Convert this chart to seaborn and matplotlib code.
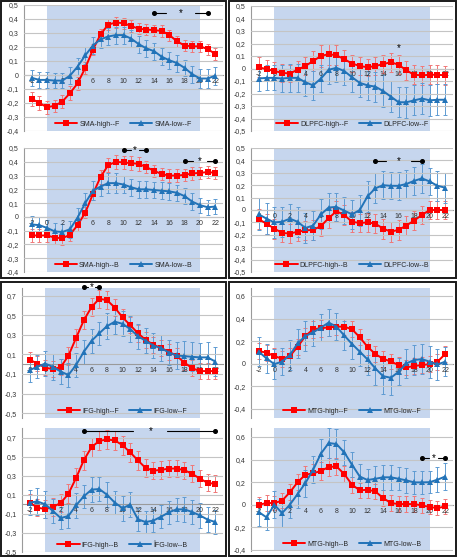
import matplotlib
matplotlib.use("Agg")
import matplotlib.pyplot as plt
from matplotlib.patches import Rectangle
import seaborn as sns
import pandas as pd

W, H = 457, 557

time_points = list(range(-2, 23))

# SMA
sma_high_f = [-0.17, -0.20, -0.23, -0.22, -0.19, -0.13, -0.06, 0.05, 0.18, 0.29, 0.36, 0.375, 0.37,
              0.35, 0.33, 0.325, 0.32, 0.315, 0.285, 0.24, 0.21, 0.205, 0.205, 0.185, 0.15]
sma_high_f_err = [0.05, 0.05, 0.045, 0.045, 0.045, 0.05, 0.045, 0.04, 0.04, 0.04, 0.04, 0.04, 0.04,
                  0.04, 0.04, 0.04, 0.04, 0.04, 0.04, 0.04, 0.04, 0.04, 0.04, 0.04, 0.04]
sma_low_f = [-0.02, -0.035, -0.035, -0.04, -0.04, -0.005, 0.06, 0.14, 0.21, 0.255, 0.275, 0.285, 0.285,
             0.26, 0.22, 0.19, 0.17, 0.13, 0.105, 0.085, 0.05, 0.005, -0.025, -0.025, -0.005]
sma_low_f_err = [0.055, 0.055, 0.055, 0.055, 0.055, 0.06, 0.06, 0.06, 0.06, 0.06, 0.06, 0.06, 0.06,
                 0.06, 0.06, 0.06, 0.06, 0.06, 0.06, 0.06, 0.06, 0.06, 0.065, 0.065, 0.065]
sma_high_b = [-0.135, -0.135, -0.135, -0.15, -0.155, -0.13, -0.06, 0.03, 0.165, 0.29, 0.375, 0.40, 0.395,
              0.39, 0.385, 0.36, 0.335, 0.31, 0.30, 0.30, 0.305, 0.315, 0.32, 0.325, 0.32]
sma_high_b_err = [0.045, 0.045, 0.045, 0.045, 0.05, 0.045, 0.045, 0.04, 0.04, 0.05, 0.05, 0.05, 0.05,
                  0.05, 0.05, 0.045, 0.045, 0.045, 0.045, 0.045, 0.045, 0.045, 0.045, 0.045, 0.045]
sma_low_b = [-0.055, -0.06, -0.08, -0.105, -0.11, -0.09, -0.005, 0.10, 0.19, 0.22, 0.245, 0.245, 0.235,
             0.215, 0.20, 0.20, 0.195, 0.19, 0.185, 0.175, 0.15, 0.11, 0.085, 0.07, 0.075]
sma_low_b_err = [0.065, 0.06, 0.06, 0.06, 0.06, 0.06, 0.07, 0.07, 0.07, 0.065, 0.07, 0.07, 0.065,
                 0.06, 0.06, 0.06, 0.06, 0.06, 0.06, 0.06, 0.06, 0.06, 0.055, 0.055, 0.055]

# DLPFC
dlpfc_high_f = [0.01, -0.005, -0.02, -0.035, -0.04, -0.01, 0.02, 0.06, 0.10, 0.115, 0.105, 0.075, 0.04,
                0.02, 0.01, 0.02, 0.035, 0.05, 0.03, -0.015, -0.05, -0.055, -0.05, -0.05, -0.055]
dlpfc_high_f_err = [0.08, 0.075, 0.07, 0.07, 0.07, 0.07, 0.075, 0.08, 0.085, 0.085, 0.08, 0.075, 0.07,
                    0.07, 0.07, 0.07, 0.07, 0.075, 0.075, 0.075, 0.075, 0.075, 0.075, 0.075, 0.075]
dlpfc_low_f = [-0.08, -0.075, -0.075, -0.08, -0.075, -0.075, -0.11, -0.135, -0.08, -0.01, 0.005, -0.02, -0.07,
               -0.115, -0.135, -0.145, -0.18, -0.225, -0.27, -0.27, -0.255, -0.24, -0.255, -0.25, -0.25]
dlpfc_low_f_err = [0.1, 0.1, 0.1, 0.105, 0.11, 0.11, 0.11, 0.115, 0.11, 0.11, 0.115, 0.115, 0.115,
                   0.115, 0.115, 0.12, 0.125, 0.125, 0.12, 0.125, 0.12, 0.125, 0.125, 0.125, 0.125]
dlpfc_high_b = [-0.075, -0.11, -0.15, -0.185, -0.19, -0.175, -0.165, -0.16, -0.13, -0.065, -0.01, -0.04, -0.095,
                -0.105, -0.10, -0.11, -0.15, -0.175, -0.16, -0.125, -0.085, -0.04, 0.0, 0.0, 0.0]
dlpfc_high_b_err = [0.08, 0.08, 0.08, 0.075, 0.075, 0.075, 0.075, 0.08, 0.08, 0.08, 0.08, 0.08, 0.08,
                    0.075, 0.075, 0.075, 0.08, 0.08, 0.08, 0.08, 0.08, 0.075, 0.075, 0.075, 0.075]
dlpfc_low_b = [-0.035, -0.07, -0.10, -0.095, -0.07, -0.095, -0.145, -0.125, -0.035, 0.02, 0.025, -0.005, -0.035,
               0.0, 0.11, 0.175, 0.20, 0.195, 0.195, 0.21, 0.235, 0.255, 0.23, 0.195, 0.18]
dlpfc_low_b_err = [0.13, 0.125, 0.125, 0.12, 0.12, 0.12, 0.12, 0.12, 0.12, 0.115, 0.115, 0.11, 0.115,
                   0.125, 0.125, 0.12, 0.115, 0.11, 0.115, 0.115, 0.115, 0.115, 0.11, 0.12, 0.12]

# IFG
ifg_high_f = [0.045, 0.007, -0.035, -0.05, -0.03, 0.086, 0.27, 0.45, 0.586, 0.67, 0.655, 0.58, 0.48,
              0.40, 0.317, 0.248, 0.20, 0.165, 0.128, 0.086, 0.017, -0.04, -0.07, -0.07, -0.07]
ifg_high_f_err = [0.085, 0.08, 0.08, 0.08, 0.08, 0.09, 0.09, 0.09, 0.09, 0.09, 0.09, 0.085, 0.085,
                  0.085, 0.085, 0.08, 0.08, 0.08, 0.08, 0.08, 0.08, 0.08, 0.08, 0.08, 0.08]
ifg_low_f = [-0.06, -0.025, 0.007, -0.027, -0.075, -0.11, -0.007, 0.127, 0.24, 0.317, 0.39, 0.435, 0.414,
             0.36, 0.286, 0.24, 0.19, 0.165, 0.12, 0.09, 0.083, 0.076, 0.07, 0.07, 0.028]
ifg_low_f_err = [0.12, 0.12, 0.13, 0.13, 0.13, 0.12, 0.12, 0.12, 0.12, 0.12, 0.13, 0.13, 0.13,
                 0.13, 0.13, 0.13, 0.13, 0.13, 0.13, 0.14, 0.15, 0.15, 0.15, 0.16, 0.15]
ifg_high_b = [0.018, -0.035, -0.05, -0.028, 0.014, 0.11, 0.277, 0.463, 0.60, 0.665, 0.68, 0.67, 0.62,
              0.544, 0.46, 0.38, 0.354, 0.36, 0.375, 0.375, 0.358, 0.32, 0.27, 0.225, 0.214]
ifg_high_b_err = [0.09, 0.09, 0.09, 0.09, 0.09, 0.1, 0.1, 0.1, 0.1, 0.1, 0.1, 0.1, 0.1,
                  0.1, 0.1, 0.09, 0.09, 0.09, 0.09, 0.09, 0.09, 0.09, 0.09, 0.09, 0.09]
ifg_low_b = [0.018, 0.03, 0.0, -0.07, -0.144, -0.123, -0.01, 0.084, 0.154, 0.16, 0.10, 0.018, -0.04,
             -0.004, -0.158, -0.186, -0.17, -0.13, -0.084, -0.053, -0.053, -0.08, -0.116, -0.16, -0.186]
ifg_low_b_err = [0.13, 0.14, 0.14, 0.13, 0.12, 0.13, 0.13, 0.12, 0.13, 0.13, 0.13, 0.12, 0.13,
                 0.13, 0.12, 0.12, 0.12, 0.12, 0.12, 0.12, 0.13, 0.13, 0.13, 0.13, 0.13]

# MTG
mtg_high_f = [0.112, 0.098, 0.068, 0.044, 0.068, 0.15, 0.245, 0.305, 0.314, 0.322, 0.328, 0.328, 0.305,
              0.234, 0.15, 0.086, 0.044, 0.02, -0.012, -0.033, -0.02, -0.012, -0.003, 0.018, 0.086]
mtg_high_f_err = [0.07, 0.07, 0.07, 0.07, 0.07, 0.07, 0.075, 0.075, 0.075, 0.075, 0.07, 0.07, 0.07,
                  0.07, 0.07, 0.07, 0.07, 0.07, 0.07, 0.07, 0.07, 0.07, 0.07, 0.07, 0.07]
mtg_low_f = [0.107, 0.047, -0.003, 0.018, 0.077, 0.18, 0.245, 0.278, 0.32, 0.364, 0.328, 0.25, 0.175,
             0.107, 0.038, -0.041, -0.11, -0.124, -0.071, 0.003, 0.033, 0.041, 0.018, -0.006, 0.018]
mtg_low_f_err = [0.13, 0.13, 0.13, 0.12, 0.13, 0.13, 0.13, 0.12, 0.12, 0.12, 0.12, 0.13, 0.13,
                 0.13, 0.14, 0.15, 0.16, 0.15, 0.12, 0.13, 0.13, 0.13, 0.14, 0.14, 0.13]
mtg_high_b = [0.0, 0.015, 0.015, 0.036, 0.11, 0.20, 0.266, 0.278, 0.30, 0.334, 0.34, 0.272, 0.178,
              0.127, 0.133, 0.118, 0.06, 0.015, 0.006, 0.006, 0.006, -0.006, -0.02, -0.03, -0.015]
mtg_high_b_err = [0.07, 0.07, 0.065, 0.065, 0.07, 0.07, 0.075, 0.08, 0.08, 0.08, 0.075, 0.07, 0.07,
                  0.07, 0.07, 0.07, 0.07, 0.07, 0.07, 0.07, 0.07, 0.065, 0.065, 0.065, 0.065]
mtg_low_b = [-0.065, -0.112, 0.0, -0.074, 0.0, 0.095, 0.192, 0.31, 0.453, 0.547, 0.538, 0.464, 0.355,
             0.25, 0.219, 0.23, 0.243, 0.243, 0.23, 0.216, 0.198, 0.198, 0.20, 0.222, 0.25]
mtg_low_b_err = [0.12, 0.11, 0.12, 0.12, 0.12, 0.12, 0.12, 0.12, 0.13, 0.13, 0.13, 0.11, 0.11,
                 0.11, 0.10, 0.11, 0.11, 0.11, 0.10, 0.11, 0.10, 0.10, 0.10, 0.11, 0.12]

# significance bars: (x start, x end, y, star x, gap each side of star)
sma_f_sig = [(14, 21, 0.44, 17.5, 1.9)]
sma_b_sig = [(10, 13, 0.485, 11.5, 0.55), (18, 22, 0.405, 20, 0.9)]
dlpfc_f_sig = [(16, 16, 0.165, 16, 0)]
dlpfc_b_sig = [(13, 19, 0.395, 16, 1.6)]
ifg_f_sig = [(5, 7, 0.79, 6, 0.45)]
ifg_b_sig = [(5, 22, 0.77, 13.6, 2.2)]
mtg_f_sig = []
mtg_b_sig = [(19, 22, 0.414, 20.5, 0.6)]

RED = "#ff0000"
BLUE = "#2273b8"
RED_ERR = "#f07878"
BLUE_ERR = "#5e9bd2"
SHADE = "#c6d6ee"
GRID = "#c4c4c4"


def place(fig, left, top, right, bottom):
    return fig.add_axes([left / W, 1 - bottom / H, (right - left) / W, (bottom - top) / H])


def fmt(v):
    if abs(v) < 1e-9:
        return "0"
    return f"{v:.1f}".replace(".", ",")


def draw_panel(ax, region, cond, high, high_err, low, low_err, ylim, yticks, sigs):
    high_name = f"{region}-high--{cond}"
    low_name = f"{region}-low--{cond}"
    if region == "IFG" and cond == "B":
        low_name = f"\u00ceFG-low--{cond}"
    df = pd.DataFrame({
        "time": time_points * 2,
        "value": high + low,
        "series": [high_name] * len(time_points) + [low_name] * len(time_points),
    })
    ax.axvspan(0, 20, color=SHADE, lw=0, zorder=0)
    ax.errorbar(time_points, high, yerr=high_err, fmt="none", ecolor=RED_ERR,
                elinewidth=0.7, capsize=1.6, capthick=0.7, zorder=2)
    ax.errorbar(time_points, low, yerr=low_err, fmt="none", ecolor=BLUE_ERR,
                elinewidth=0.7, capsize=1.6, capthick=0.7, zorder=2)
    sns.lineplot(data=df, x="time", y="value", hue="series", style="series",
                 palette=[RED, BLUE], markers=["s", "^"], dashes=False,
                 markersize=3.8, markeredgewidth=0, linewidth=1.4, ax=ax, zorder=3)

    for x0, x1, y, xs, gap in sigs:
        if x1 > x0:
            ax.plot([x0, xs - gap], [y, y], color="black", lw=0.8, clip_on=False, zorder=4)
            ax.plot([xs + gap, x1], [y, y], color="black", lw=0.8, clip_on=False, zorder=4)
            ax.plot([x0, x1], [y, y], "o", color="black", ms=2.6, clip_on=False, zorder=4)
        ax.text(xs, y, "*", ha="center", va="center", fontsize=7, color="black", zorder=4)

    ax.set_xlim(-3, 23)
    ax.set_ylim(*ylim)
    ax.set_yticks(yticks)
    ax.set_yticklabels([fmt(v) for v in yticks])
    ax.set_xticks(range(-2, 23, 2))
    ax.set_xticklabels([str(v) for v in range(-2, 23, 2)])
    ax.yaxis.grid(True, color=GRID, lw=0.8)
    ax.xaxis.grid(False)
    ax.set_axisbelow(False)
    for line in ax.get_ygridlines():
        line.set_zorder(1)
    ax.spines["bottom"].set_position(("data", 0))
    ax.spines["bottom"].set_color("#9a9a9a")
    ax.spines["bottom"].set_linewidth(0.8)
    ax.spines["left"].set_color("#9a9a9a")
    ax.spines["left"].set_linewidth(0.8)
    ax.spines["top"].set_visible(False)
    ax.spines["right"].set_visible(False)
    ax.tick_params(axis="y", labelsize=5, length=2.5, width=0.6, color="#9a9a9a", pad=1.5, labelcolor="#333333")
    ax.tick_params(axis="x", labelsize=5, length=0, pad=2, labelcolor="#333333")
    ax.set_xlabel("")
    ax.set_ylabel("")
    leg = ax.legend(loc="lower center", ncol=2, frameon=False, fontsize=5, handlelength=3.2,
                    columnspacing=1.5, handletextpad=0.3, borderaxespad=0.1)
    for h in leg.legend_handles:
        h.set_markersize(3.8)


sns.set_style("white")
plt.rcParams["font.family"] = ["Liberation Sans", "DejaVu Sans"]

fig = plt.figure(figsize=(W / 100, H / 100), dpi=100)

frames = [(0.8, 0.8, 226, 278), (229, 0.8, 456.2, 278), (0.8, 282, 226, 556.2), (229, 282, 456.2, 556.2)]
for x0, y0, x1, y1 in frames:
    fig.add_artist(Rectangle((x0 / W, 1 - y1 / H), (x1 - x0) / W, (y1 - y0) / H,
                             transform=fig.transFigure, fill=False, ec="#1a1a1a", lw=1.4))

sma_ticks = [-0.4, -0.3, -0.2, -0.1, 0, 0.1, 0.2, 0.3, 0.4, 0.5]
dlpfc_ticks = [-0.5, -0.4, -0.3, -0.2, -0.1, 0, 0.1, 0.2, 0.3, 0.4, 0.5]
ifg_ticks = [-0.5, -0.3, -0.1, 0.1, 0.3, 0.5, 0.7]
mtg_ticks = [-0.4, -0.2, 0, 0.2, 0.4, 0.6]

ax = place(fig, 24, 5, 223, 131)
draw_panel(ax, "SMA", "F", sma_high_f, sma_high_f_err, sma_low_f, sma_low_f_err, (-0.4, 0.5), sma_ticks, sma_f_sig)
ax = place(fig, 24, 148, 223, 272)
draw_panel(ax, "SMA", "B", sma_high_b, sma_high_b_err, sma_low_b, sma_low_b_err, (-0.4, 0.5), sma_ticks, sma_b_sig)
ax = place(fig, 251, 6, 453, 131)
draw_panel(ax, "DLPFC", "F", dlpfc_high_f, dlpfc_high_f_err, dlpfc_low_f, dlpfc_low_f_err, (-0.5, 0.5), dlpfc_ticks, dlpfc_f_sig)
ax = place(fig, 251, 148, 453, 272)
draw_panel(ax, "DLPFC", "B", dlpfc_high_b, dlpfc_high_b_err, dlpfc_low_b, dlpfc_low_b_err, (-0.5, 0.5), dlpfc_ticks, dlpfc_b_sig)
ax = place(fig, 22, 288, 223, 418)
draw_panel(ax, "IFG", "F", ifg_high_f, ifg_high_f_err, ifg_low_f, ifg_low_f_err, (-0.55, 0.78), ifg_ticks, ifg_f_sig)
ax = place(fig, 22, 428, 223, 552)
draw_panel(ax, "IFG", "B", ifg_high_b, ifg_high_b_err, ifg_low_b, ifg_low_b_err, (-0.5, 0.8), ifg_ticks, ifg_b_sig)
ax = place(fig, 251, 288, 453, 418)
draw_panel(ax, "MTG", "F", mtg_high_f, mtg_high_f_err, mtg_low_f, mtg_low_f_err, (-0.48, 0.67), mtg_ticks, mtg_f_sig)
ax = place(fig, 251, 428, 453, 551)
draw_panel(ax, "MTG", "B", mtg_high_b, mtg_high_b_err, mtg_low_b, mtg_low_b_err, (-0.41, 0.68), mtg_ticks, mtg_b_sig)

fig.savefig("out.png", dpi=100)
